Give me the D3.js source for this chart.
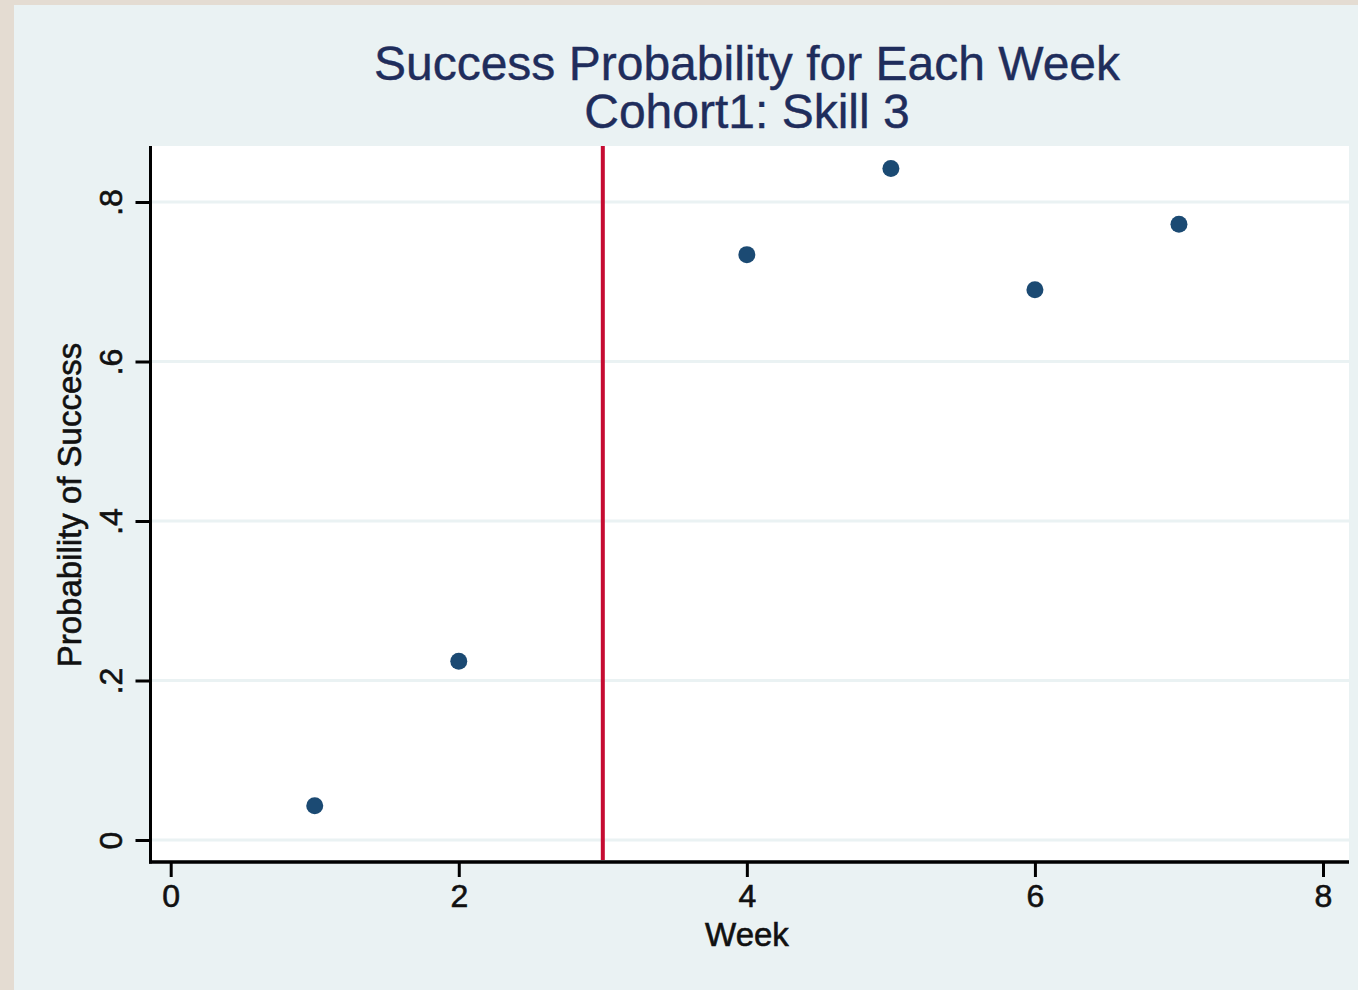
<!DOCTYPE html>
<meta charset="utf-8">
<script src="https://d3js.org/d3.v7.min.js"></script>
<style>
  body { margin: 0; background: #e4dcd2; }
  text { font-family: "Liberation Sans", Arial, sans-serif; }
</style>
<div id="chart"></div>
<script>

// data (week 3 has no point, it is the red marker line)
const weeks = [1, 2, 4, 5, 6, 7];
const probSuccess = [0.043, 0.224, 0.734, 0.842, 0.690, 0.772];
const cutWeek = 3;

const xTicks = [0, 2, 4, 6, 8];
const yTicks = [0, 0.2, 0.4, 0.6, 0.8];
const titleLines = ["Success Probability for Each Week", "Cohort1: Skill 3"];

const W = 1358, H = 990;
// plot region (white box)
const plot = {left: 152, right: 1349, top: 146, bottom: 860};

const svg = d3.select("#chart").append("svg")
    .attr("width", W)
    .attr("height", H);

// outer beige edge then the light panel
svg.append("rect").attr("width", W).attr("height", H).attr("fill", "#e4dcd2");
svg.append("rect")
    .attr("x", 14).attr("y", 5)
    .attr("width", W - 14).attr("height", H - 5)
    .attr("fill", "#eaf2f3");

svg.append("rect")
    .attr("x", plot.left).attr("y", plot.top)
    .attr("width", plot.right - plot.left)
    .attr("height", plot.bottom - plot.top)
    .attr("fill", "#ffffff");

const x = d3.scaleLinear().domain([0, 8]).range([170.7, 1323]);
const y = d3.scaleLinear().domain([0, 0.8]).range([840, 202]);

// grid lines
svg.append("g")
  .selectAll("line")
  .data(yTicks)
  .join("line")
    .attr("x1", plot.left)
    .attr("x2", plot.right)
    .attr("y1", d => y(d))
    .attr("y2", d => y(d))
    .attr("stroke", "#eaf2f3")
    .attr("stroke-width", 3);

// y axis
const yAxis = svg.append("g")
    .attr("transform", `translate(${plot.left - 1.5},0)`)
    .call(d3.axisLeft(y)
        .tickValues(yTicks)
        .tickSize(15)
        .tickSizeOuter(0)
        .tickFormat(d => d === 0 ? "0" : d3.format(".1f")(d).replace(/^0/, "")));
yAxis.select(".domain").remove();
yAxis.selectAll(".tick line").attr("stroke", "#000").attr("stroke-width", 3);
yAxis.selectAll(".tick text")
    .attr("x", null).attr("dy", null)
    .attr("transform", "translate(-29,0) rotate(-90)")
    .attr("text-anchor", "middle")
    .attr("font-size", 32)
    .attr("fill", "#111")
    .attr("stroke", "#111")
    .attr("stroke-width", 0.6);

// x axis
const xAxis = svg.append("g")
    .attr("transform", `translate(0,${plot.bottom + 2})`)
    .call(d3.axisBottom(x)
        .tickValues(xTicks)
        .tickSize(15)
        .tickSizeOuter(0)
        .tickFormat(d3.format("d")));
xAxis.select(".domain").remove();
xAxis.selectAll(".tick line").attr("stroke", "#000").attr("stroke-width", 3);
xAxis.selectAll(".tick text")
    .attr("y", 45).attr("dy", null)
    .attr("font-size", 32)
    .attr("fill", "#111")
    .attr("stroke", "#111")
    .attr("stroke-width", 0.6);

// axis lines along plot edges
svg.append("line")
    .attr("x1", plot.left - 1.5).attr("x2", plot.left - 1.5)
    .attr("y1", plot.top).attr("y2", plot.bottom + 3.5)
    .attr("stroke", "#000").attr("stroke-width", 3);
svg.append("line")
    .attr("x1", plot.left - 3).attr("x2", plot.right)
    .attr("y1", plot.bottom + 2).attr("y2", plot.bottom + 2)
    .attr("stroke", "#000").attr("stroke-width", 3.5);

// vertical red line at the cut week
svg.append("line")
    .attr("x1", x(cutWeek)).attr("x2", x(cutWeek))
    .attr("y1", plot.top).attr("y2", plot.bottom)
    .attr("stroke", "#c60c32")
    .attr("stroke-width", 4);

// points
svg.append("g")
  .selectAll("circle")
  .data(weeks)
  .join("circle")
    .attr("cx", d => x(d))
    .attr("cy", (d, i) => y(probSuccess[i]))
    .attr("r", 8.5)
    .attr("fill", "#1b4a73");

// titles
svg.append("g")
  .selectAll("text")
  .data(titleLines)
  .join("text")
    .attr("x", 747)
    .attr("y", (d, i) => 80 + i * 48)
    .attr("text-anchor", "middle")
    .attr("font-size", 48)
    .attr("fill", "#1f2d5c")
    .attr("stroke", "#1f2d5c")
    .attr("stroke-width", 0.4)
    .text(d => d);

svg.append("text")
    .attr("x", 747)
    .attr("y", 946)
    .attr("text-anchor", "middle")
    .attr("font-size", 33)
    .attr("fill", "#111")
    .attr("stroke", "#111")
    .attr("stroke-width", 0.6)
    .text("Week");

svg.append("text")
    .attr("transform", "translate(81,505) rotate(-90)")
    .attr("text-anchor", "middle")
    .attr("font-size", 33)
    .attr("fill", "#111")
    .attr("stroke", "#111")
    .attr("stroke-width", 0.6)
    .text("Probability of Success");

</script>
